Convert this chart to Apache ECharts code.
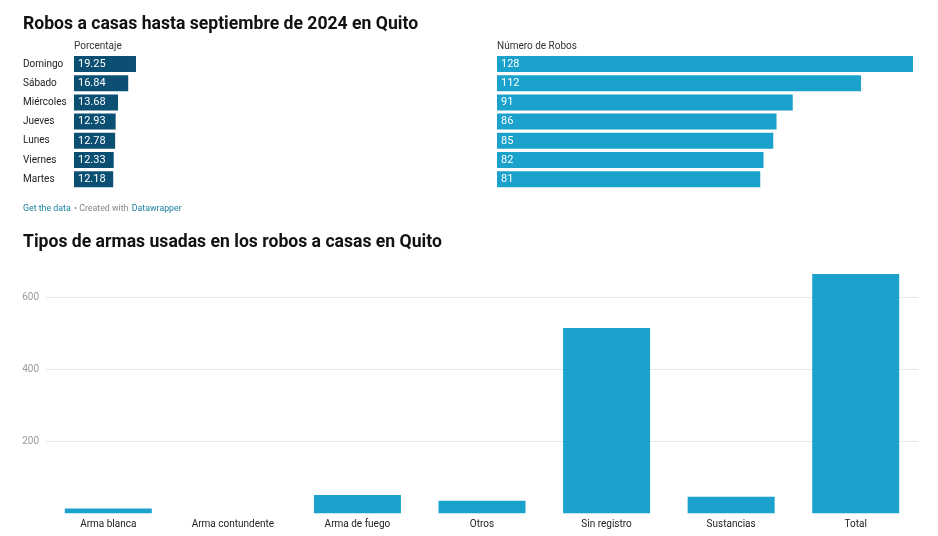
<!DOCTYPE html>
<html><head><meta charset="utf-8">
<script src="https://cdn.jsdelivr.net/npm/echarts@6/dist/echarts.min.js"></script>
<style>html,body{margin:0;padding:0;background:#fff}#c{width:938px;height:536px}</style>
</head><body><div id="c"></div>
<script>
const days = ['Domingo','Sábado','Miércoles','Jueves','Lunes','Viernes','Martes'];
const porcentaje = [19.25,16.84,13.68,12.93,12.78,12.33,12.18];
const robos = [128,112,91,86,85,82,81];
const armas = ['Arma blanca','Arma contundente','Arma de fuego','Otros','Sin registro','Sustancias','Total'];
const armasValores = [13,0,51,35,515,46,665];
const yTicks = [200,400,600];

const F = 'Roboto, "Liberation Sans", sans-serif';
const chart = echarts.init(document.getElementById('c'));
const rowTop = 54.4, rowH = 134.4;
chart.setOption({
  animation:false,
  textStyle:{fontFamily:F},
  title:[
    {text:'Robos a casas hasta septiembre de 2024 en Quito',left:18,top:11,textStyle:{fontFamily:F,fontSize:17.6,fontWeight:'bold',color:'#111'}},
    {text:'Tipos de armas usadas en los robos a casas en Quito',left:18,top:229,textStyle:{fontFamily:F,fontSize:17.6,fontWeight:'bold',color:'#111'}}
  ],
  graphic:[
    {type:'text',left:74,top:41,style:{text:'Porcentaje',font:'10px '+F,fill:'#333'}},
    {type:'text',left:497,top:41,style:{text:'Número de Robos',font:'10px '+F,fill:'#333'}},
    {type:'text',left:23,top:203,style:{
      text:'{a|Get the data} {b|• Created with} {a|Datawrapper}',
      rich:{a:{fontFamily:F,fontSize:8.8,fill:'#1d81a2'},b:{fontFamily:F,fontSize:8.8,fill:'#888'}}
    }}
  ],
  grid:[
    {left:74,top:rowTop,width:322,height:rowH},
    {left:497,top:rowTop,width:422.5,height:rowH},
    {left:46,top:261.3,right:20,bottom:22.7}
  ],
  xAxis:[
    {gridIndex:0,type:'value',min:0,max:100,show:false},
    {gridIndex:1,type:'value',min:0,max:130,show:false},
    {gridIndex:2,type:'category',data:armas,axisLine:{show:false},axisTick:{show:false},
     axisLabel:{fontFamily:F,fontSize:10,color:'#222',margin:6}}
  ],
  yAxis:[
    {gridIndex:0,type:'category',data:days,inverse:true,axisLine:{show:false},axisTick:{show:false},
     axisLabel:{align:'left',margin:51,fontFamily:F,fontSize:10,color:'#222'}},
    {gridIndex:1,type:'category',data:days,inverse:true,show:false},
    {gridIndex:2,type:'value',min:0,max:700,interval:200,axisLine:{show:false},axisTick:{show:false},
     axisLabel:{showMinLabel:false,showMaxLabel:false,fontFamily:F,fontSize:10,color:'#999',margin:7,
       formatter:v=>yTicks.includes(v)?String(v):''},
     splitLine:{showMinLine:false,showMaxLine:false,lineStyle:{color:'#e6e6e6',width:1}}}
  ],
  series:[
    {type:'bar',xAxisIndex:0,yAxisIndex:0,data:porcentaje,barWidth:16,itemStyle:{color:'#0b4f73'},
     label:{show:true,position:'insideLeft',distance:4,color:'#fff',fontFamily:F,fontSize:11,fontWeight:'normal'}},
    {type:'bar',xAxisIndex:1,yAxisIndex:1,data:robos,barWidth:16,itemStyle:{color:'#1aa1cc'},
     label:{show:true,position:'insideLeft',distance:4,color:'#fff',fontFamily:F,fontSize:11,fontWeight:'normal'}},
    {type:'bar',xAxisIndex:2,yAxisIndex:2,data:armasValores,barWidth:87,itemStyle:{color:'#1aa1cc'}}
  ]
});
</script></body></html>
